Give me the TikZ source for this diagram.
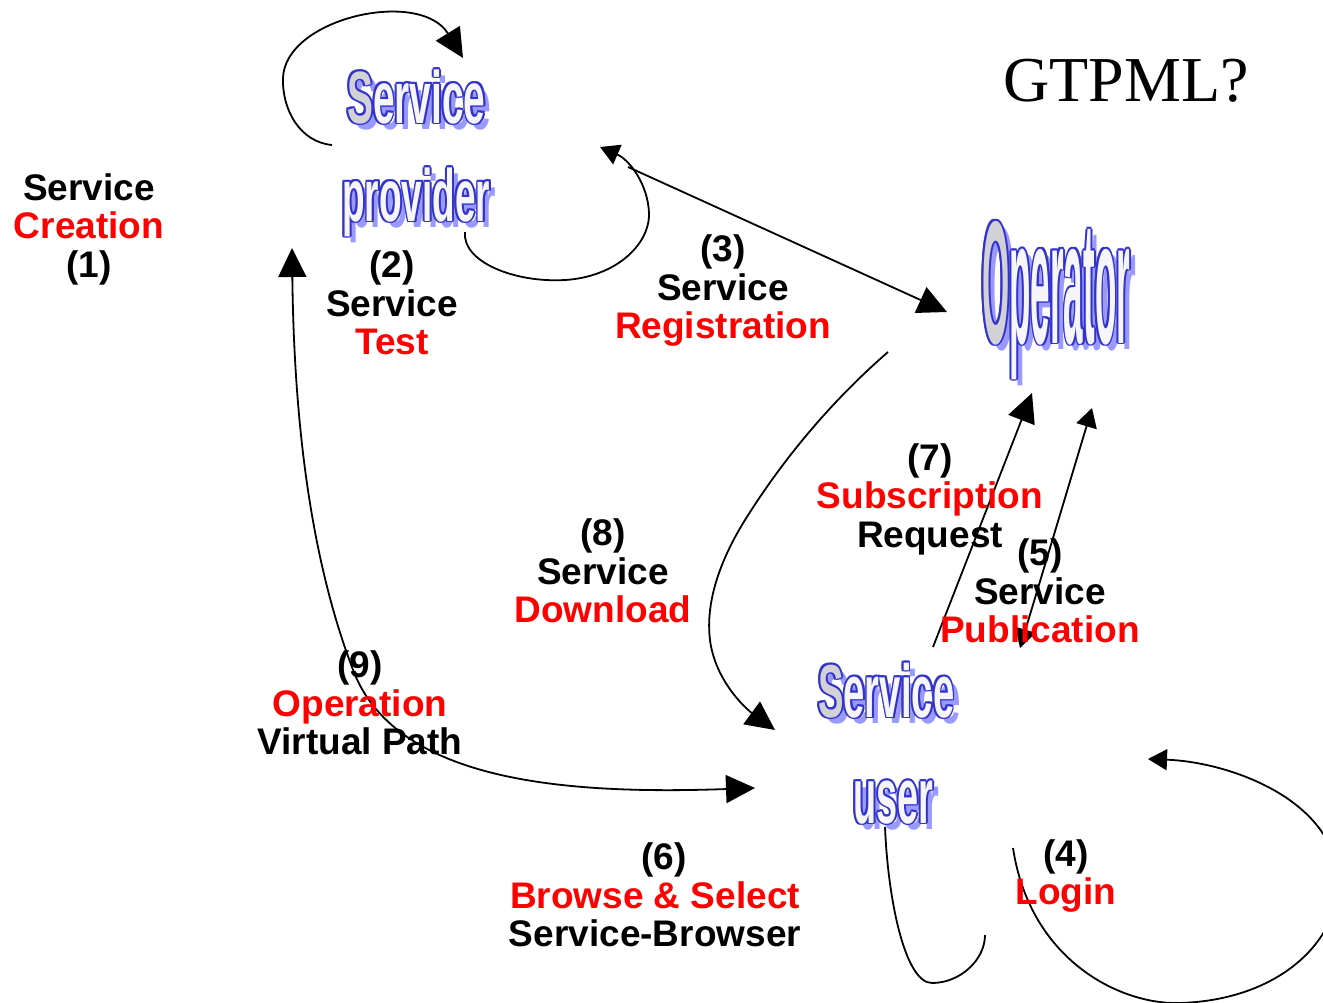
\documentclass[tikz,border=0pt]{standalone}
\usepackage{fontspec}
\usepackage{graphicx}
\setmainfont{Liberation Sans}
\newfontfamily\gtfont{Liberation Serif}
\usetikzlibrary{arrows.meta,calc}
\definecolor{lblred}{RGB}{255,0,0}
\definecolor{waBlue}{RGB}{51,51,204}
\definecolor{waShadow}{RGB}{153,153,255}
\definecolor{waFill}{RGB}{246,246,250}
\definecolor{waGray}{RGB}{210,210,214}
\newif\ifwafill
\newcommand\fl[1]{{\ifwafill\color{waGray}\fi#1}}
\newcommand\WordArt[6]{%
  \node[wabox,text=waShadow] at (#2+6,#3+6) {\fontsize{#5}{#5}\selectfont\scalebox{#4}[1]{#6}};
  \foreach \dx/\dy in {1.8/0,-1.8/0,0/1.8,0/-1.8,1.3/1.3,-1.3/1.3,1.3/-1.3,-1.3/-1.3}{
    \node[wabox,text=waBlue] at (#2+\dx,#3+\dy) {\fontsize{#5}{#5}\selectfont\scalebox{#4}[1]{#6}};
  }
  \node[wabox,text=waFill] (#1) at (#2,#3) {\wafilltrue\fontsize{#5}{#5}\selectfont\scalebox{#4}[1]{#6}};
}
\tikzset{
  wabox/.style={anchor=base west,inner sep=0pt,font=\bfseries},
  lbl/.style={align=center,inner sep=0pt,font=\bfseries\fontsize{37}{38.5}\selectfont},
  conn/.style={line width=1.8pt,black},
  BigTip/.tip={Triangle[length=29pt,width=28pt]},
  SmallTip/.tip={Triangle[length=19pt,width=21pt]}
}
\begin{document}
\begin{tikzpicture}[x=1pt,y=-1pt]
\useasboundingbox (0,0) rectangle (1323,1002);
\clip (0,0) rectangle (1323,1002);

% connector end points
\coordinate (c1s) at (332,145);  \coordinate (c1e) at (463,58);
\coordinate (c2s) at (465,232);  \coordinate (c2e) at (600,147);
\coordinate (c3s) at (628,167);  \coordinate (c3e) at (947,312);
\coordinate (c8s) at (888,352);  \coordinate (c8e) at (775,730);
\coordinate (c7s) at (933,647);  \coordinate (c7e) at (1032,393);
\coordinate (c5s) at (1020,648); \coordinate (c5e) at (1092,408);
\coordinate (c9s) at (292,248);  \coordinate (c9e) at (755,788);
\coordinate (c6s) at (885,827);  \coordinate (c6e) at (985,935);
\coordinate (c4s) at (1013,848); \coordinate (c4e) at (1148,759);

% connectors
\draw[conn,-BigTip] (c1s) .. controls (300,142) and (282,110) .. (283,78)
  .. controls (285,18) and (420,-12) .. (c1e);
\draw[conn,-SmallTip] (c2s) .. controls (462,262) and (515,283) .. (565,280)
  .. controls (615,277) and (650,245) .. (649,213)
  .. controls (648,185) and (630,160) .. (c2e);
\draw[conn,-BigTip] (c3s) -- (c3e);
\draw[conn,-BigTip] (c8s) .. controls (850,385) and (795,440) .. (745,520)
  .. controls (722,557) and (705,600) .. (710,640)
  .. controls (715,680) and (745,708) .. (c8e);
\draw[conn,-BigTip] (c7s) -- (c7e);
\draw[conn,SmallTip-SmallTip] (c5s) -- (c5e);
\draw[conn,BigTip-BigTip] (c9s) .. controls (294,420) and (310,560) .. (355,675)
  .. controls (400,780) and (560,795) .. (c9e);
\draw[conn] (c6s) .. controls (888,900) and (905,983) .. (932,983)
  .. controls (960,983) and (985,960) .. (c6e);
\draw[conn,-SmallTip] (c4s) .. controls (1030,960) and (1120,1005) .. (1180,1003)
  .. controls (1280,1000) and (1340,940) .. (1338,880)
  .. controls (1335,800) and (1230,762) .. (c4e);

% word-art nodes
\WordArt{sp1}{347}{123}{0.525}{74}{\fl{S}ervice}
\WordArt{sp2}{342}{221}{0.5}{74}{provider}
\WordArt{op}{982}{343}{0.2}{175}{\fl{O}perator}
\WordArt{su1}{818}{717}{0.51}{75}{\fl{S}ervice}
\WordArt{su2}{853}{823}{0.48}{79}{user}

% title
\node[anchor=base west,inner sep=0pt,font=\gtfont\fontsize{64}{64}\selectfont] (title) at (1003,101) {GTPML?};

% labels
\node[lbl] (l1) at (89,229) {Service\\\textcolor{lblred}{Creation}\\(1)};
\node[lbl] (l2) at (392,303) {(2)\\Service\\\textcolor{lblred}{Test}};
\node[lbl] (l3) at (723,291) {(3)\\Service\\\textcolor{lblred}{Registration}};
\node[lbl] (l7) at (930,499) {(7)\\\textcolor{lblred}{Subscription}\\Request};
\node[lbl] (l5) at (1040,591) {(5)\\Service\\\textcolor{lblred}{Publication}};
\node[lbl] (l8) at (603,571) {(8)\\Service\\\textcolor{lblred}{Download}};
\node[lbl] (l9) at (360,703) {(9)\\\textcolor{lblred}{Operation}\\Virtual Path};
\node[lbl] (l6) at (655,895) {\hspace*{18pt}(6)\\\textcolor{lblred}{Browse \& Select}\\Service-Browser};
\node[lbl] (l4) at (1066,876) {(4)\\\textcolor{lblred}{Login}};
\end{tikzpicture}
\end{document}
